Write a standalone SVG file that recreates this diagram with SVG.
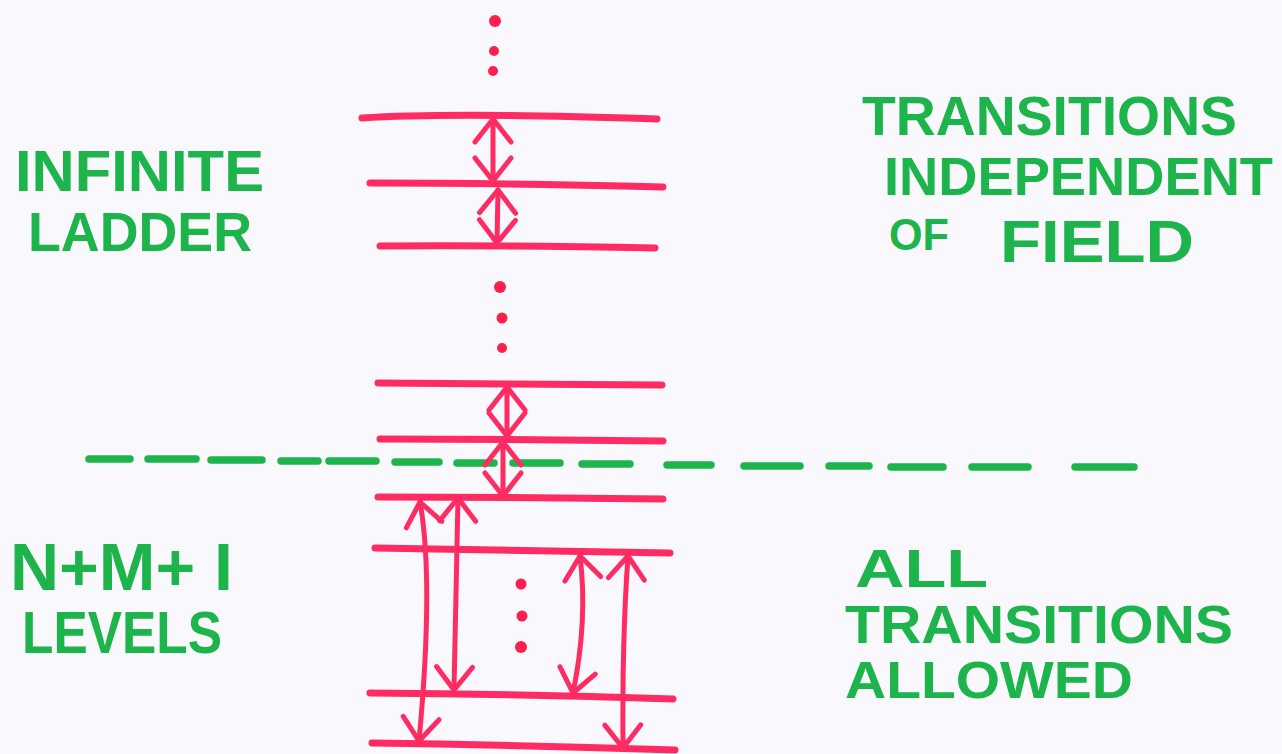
<svg xmlns="http://www.w3.org/2000/svg" width="1282" height="754" viewBox="0 0 1282 754">
  <style>
    .bg { fill: #f9f9fd; }
    .level { fill: none; stroke: #ff2b63; stroke-width: 7; stroke-linecap: round; }
    .arrow { fill: none; stroke: #ff2b63; stroke-width: 5; stroke-linecap: round; marker-start: url(#vhead); marker-end: url(#vhead); }
    .dot { fill: #ff1f4f; }
    .label { fill: #1db44b; font-family: "Liberation Sans", Arial, sans-serif; font-weight: bold; }
    .divider { fill: none; stroke: #1db44b; stroke-width: 7.5; stroke-linecap: round; }
  </style>
  <defs>
    <!-- open V arrowhead, drawn along +x with the tip at the origin -->
    <marker id="vhead" viewBox="-30 -25 34 50" refX="0" refY="0" markerWidth="34" markerHeight="50" markerUnits="userSpaceOnUse" orient="auto-start-reverse">
      <path d="M -23 -18 L 0 0 L -23 18" fill="none" stroke="#ff2b63" stroke-width="5" stroke-linecap="round" stroke-linejoin="round"/>
    </marker>
  </defs>

  <rect class="bg" x="0" y="0" width="1282" height="754"/>

  <!-- continuation dots -->
  <g id="dots-top">
    <circle class="dot" cx="495" cy="21" r="6"/>
    <circle class="dot" cx="494" cy="51" r="5"/>
    <circle class="dot" cx="493" cy="71" r="5"/>
  </g>
  <g id="dots-middle">
    <circle class="dot" cx="500" cy="287" r="6"/>
    <circle class="dot" cx="502" cy="318" r="5.5"/>
    <circle class="dot" cx="502" cy="348" r="5"/>
  </g>
  <g id="dots-bottom">
    <circle class="dot" cx="521" cy="584" r="5.5"/>
    <circle class="dot" cx="522" cy="616" r="5.5"/>
    <circle class="dot" cx="521" cy="647" r="6"/>
  </g>

  <!-- energy levels -->
  <g id="level-1"><path class="level" d="M 362 118 Q 450 112 657 119"/></g>
  <g id="level-2"><path class="level" d="M 370 183 Q 500 183 663 187"/></g>
  <g id="level-3"><path class="level" d="M 380 246 Q 500 245 655 248"/></g>
  <g id="level-4"><path class="level" d="M 378 383 Q 500 384 662 385"/></g>
  <g id="level-5"><path class="level" d="M 380 439 Q 520 439 663 441"/></g>
  <g id="level-6"><path class="level" d="M 378 497 Q 520 497 663 499"/></g>
  <g id="level-7"><path class="level" d="M 375 548 Q 520 550 670 553"/></g>
  <g id="level-8"><path class="level" d="M 370 693 Q 520 694 673 699"/></g>
  <g id="level-9"><path class="level" d="M 372 743 Q 520 745 675 750"/></g>

  <!-- boundary between finite block and infinite ladder -->
  <g id="divider">
    <path class="divider" d="M 89 459 H 130 M 148 459 H 196 M 211 460 H 262 M 281 461 H 318 M 329 461 H 376 M 395 462 H 439 M 457 463 H 494 M 513 463 H 560 M 582 464 H 630 M 667 465 H 711 M 744 466 H 800 M 829 466 H 869 M 891 467 H 943 M 972 467 H 1028 M 1075 467 H 1134"/>
  </g>

  <!-- transitions -->
  <g id="connectors">
    <path class="arrow" d="M 493 119 L 493 181"/>
    <path class="arrow" d="M 498 190 L 497 243"/>
    <path class="arrow" d="M 507 387 L 507 436"/>
    <path class="arrow" d="M 503 442 L 503 496"/>
    <path class="arrow" d="M 420 502 Q 434 580 419 741"/>
    <path class="arrow" d="M 458 498 Q 457 560 454 690"/>
    <path class="arrow" d="M 580 556 Q 588 620 573 693"/>
    <path class="arrow" d="M 628 556 Q 622 640 623 748"/>
  </g>

  <!-- labels -->
  <g id="label-infinite-ladder">
    <text class="label" x="15" y="191" font-size="58" textLength="249" lengthAdjust="spacingAndGlyphs">INFINITE</text>
    <text class="label" x="28" y="251" font-size="55" textLength="224" lengthAdjust="spacingAndGlyphs">LADDER</text>
  </g>
  <g id="label-independent">
    <text class="label" x="862" y="135" font-size="55" textLength="375" lengthAdjust="spacingAndGlyphs">TRANSITIONS</text>
    <text class="label" x="884" y="195" font-size="54" textLength="389" lengthAdjust="spacingAndGlyphs">INDEPENDENT</text>
    <text class="label" x="889" y="250" font-size="44" textLength="60" lengthAdjust="spacingAndGlyphs">OF</text>
    <text class="label" x="1000" y="262" font-size="60" textLength="194" lengthAdjust="spacingAndGlyphs">FIELD</text>
  </g>
  <g id="label-levels">
    <text class="label" x="10" y="590" font-size="66" textLength="223" lengthAdjust="spacingAndGlyphs">N+M+ I</text>
    <text class="label" x="22" y="653" font-size="60" textLength="200" lengthAdjust="spacingAndGlyphs">LEVELS</text>
  </g>
  <g id="label-allowed">
    <text class="label" x="855" y="587" font-size="54" textLength="133" lengthAdjust="spacingAndGlyphs">ALL</text>
    <text class="label" x="845" y="643" font-size="54" textLength="388" lengthAdjust="spacingAndGlyphs">TRANSITIONS</text>
    <text class="label" x="845" y="698" font-size="51" textLength="288" lengthAdjust="spacingAndGlyphs">ALLOWED</text>
  </g>
</svg>
